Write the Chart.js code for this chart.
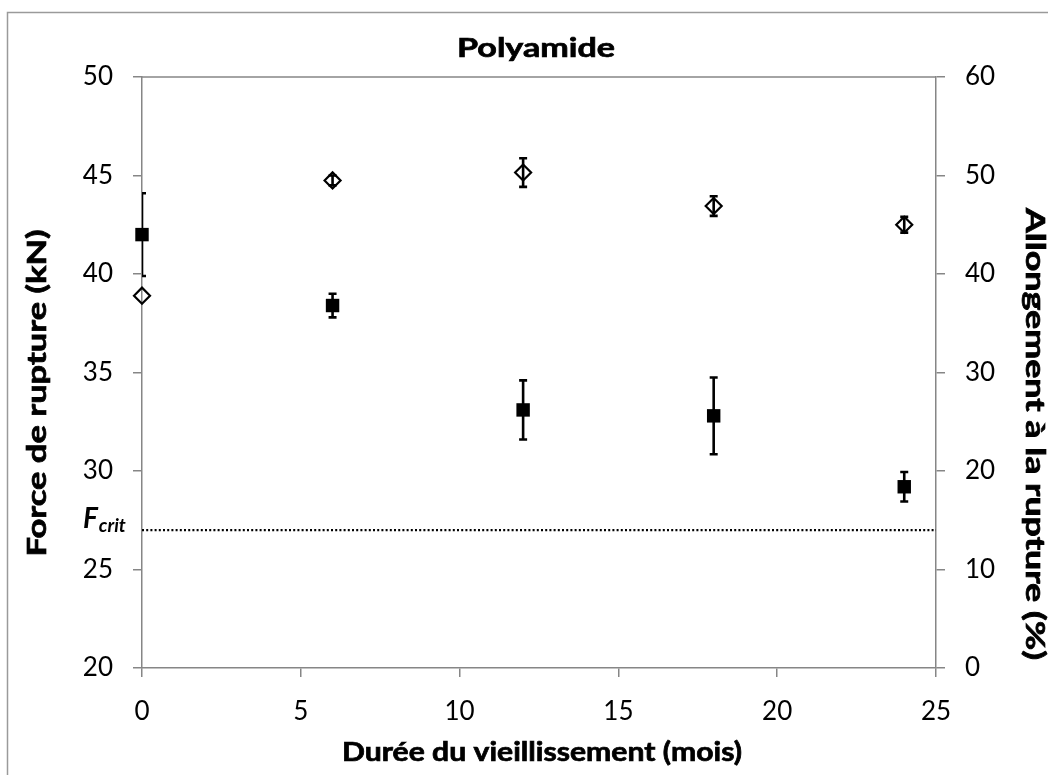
<!DOCTYPE html>
<html><head><meta charset="utf-8">
<script src="https://cdn.jsdelivr.net/npm/chart.js@4/dist/chart.umd.min.js"></script>
<style>html,body{margin:0;padding:0;background:#fff;}</style>
</head><body>
<canvas id="c" width="1048" height="775" style="display:block;width:1048px;height:775px"></canvas>
<script>
// ---- data ----
const months = [0, 6, 12, 18, 24];
const force = [42.0, 38.4, 33.1, 32.8, 29.2];          // kN (left axis)
const forceErr = [2.1, 0.6, 1.5, 1.95, 0.75];
const elong = [37.8, 49.5, 50.3, 46.9, 45.0];          // % (right axis)
const elongErr = [0, 0.5, 1.45, 1.0, 0.8];
const fCrit = 27;
const xTicks = [0, 5, 10, 15, 20, 25];
const leftTicks = [20, 25, 30, 35, 40, 45, 50];
const rightTicks = [0, 10, 20, 30, 40, 50, 60];

const chartTitle = 'Polyamide';
const xTitle = 'Durée du vieillissement (mois)';
const yLeftTitle = 'Force de rupture (kN)';
const yRightTitle = 'Allongement à la rupture (%)';

const FAM = 'Lato, "Open Sans", sans-serif';
const AXIS = '#868686';

// draw text at given size, stretched horizontally to a target width
function drawFitted(ctx, text, size, target, x, y, rot) {
  ctx.save();
  ctx.font = 'bold ' + size + 'px ' + FAM;
  const w = ctx.measureText(text).width;
  ctx.translate(x, y);
  if (rot) ctx.rotate(rot);
  ctx.scale(target / w, 1);
  ctx.textAlign = 'center'; ctx.textBaseline = 'alphabetic';
  ctx.fillStyle = '#000'; ctx.strokeStyle = '#000'; ctx.lineWidth = 0.7;
  ctx.fillText(text, 0, 0);
  ctx.strokeText(text, 0, 0);
  ctx.restore();
}

const errorBars = {
  id: 'errorBars',
  afterDatasetsDraw(chart) {
    const ctx = chart.ctx, x = chart.scales.x, a = chart.chartArea;
    const sets = [[force, forceErr, chart.scales.yL], [elong, elongErr, chart.scales.yR]];
    ctx.save();
    ctx.beginPath(); ctx.rect(a.left, a.top - 20, a.right - a.left, a.bottom - a.top + 40); ctx.clip();
    ctx.strokeStyle = '#000'; ctx.lineWidth = 2.6;
    sets.forEach(([vals, errs, ys]) => {
      vals.forEach((v, i) => {
        if (!errs[i]) return;
        const px = x.getPixelForValue(months[i]);
        const t = ys.getPixelForValue(v + errs[i]), b = ys.getPixelForValue(v - errs[i]);
        ctx.beginPath();
        ctx.moveTo(px, t); ctx.lineTo(px, b);
        ctx.moveTo(px - 4, t); ctx.lineTo(px + 4, t);
        ctx.moveTo(px - 4, b); ctx.lineTo(px + 4, b);
        ctx.stroke();
      });
    });
    ctx.restore();
  }
};

const decor = {
  id: 'decor',
  beforeDraw(chart) {
    const ctx = chart.ctx;
    ctx.save();
    ctx.fillStyle = '#fff'; ctx.fillRect(0, 0, chart.width, chart.height);
    ctx.strokeStyle = '#9a9a9a'; ctx.lineWidth = 1.5;
    ctx.beginPath();
    ctx.moveTo(7.5, 780); ctx.lineTo(7.5, 12.5); ctx.lineTo(1060, 12.5);
    ctx.stroke();
    ctx.restore();
  },
  afterDraw(chart) {
    const ctx = chart.ctx, a = chart.chartArea;
    ctx.save();
    ctx.strokeStyle = AXIS; ctx.lineWidth = 1.5;
    ctx.beginPath(); ctx.moveTo(a.left, a.top); ctx.lineTo(a.right, a.top); ctx.stroke();
    ctx.fillStyle = '#000';
    drawFitted(ctx, chartTitle, 26.5, 158, 536, 57, 0);
    drawFitted(ctx, xTitle, 26, 400, 542, 761, 0);
    drawFitted(ctx, yLeftTitle, 26, 327, 46, 393, -Math.PI / 2);
    drawFitted(ctx, yRightTitle, 26, 452, 1026, 434, Math.PI / 2);
    // F crit label
    ctx.textAlign = 'left'; ctx.textBaseline = 'alphabetic';
    ctx.font = 'italic bold 28px ' + FAM;
    ctx.fillText('F', 83, 528);
    const fw = ctx.measureText('F').width;
    ctx.font = 'italic bold 19px ' + FAM;
    ctx.fillText('crit', 83 + fw + 1, 532);
    ctx.restore();
  }
};

const tickFont = { family: FAM, size: 26 };

new Chart(document.getElementById('c'), {
  type: 'scatter',
  data: {
    datasets: [
      {
        label: 'Fcrit', type: 'line', yAxisID: 'yL',
        data: [{ x: 0, y: fCrit }, { x: 25, y: fCrit }],
        borderColor: '#000', borderWidth: 2.2, borderDash: [2, 2.2],
        pointRadius: 0, fill: false
      },
      {
        label: 'Force', yAxisID: 'yL',
        data: months.map((m, i) => ({ x: m, y: force[i] })),
        pointStyle: 'rect', pointRadius: 9.5, borderWidth: 0,
        backgroundColor: '#000', borderColor: '#000', clip: false
      },
      {
        label: 'Allongement', yAxisID: 'yR',
        data: months.map((m, i) => ({ x: m, y: elong[i] })),
        pointStyle: 'rectRot', pointRadius: 8, borderWidth: 2.2,
        backgroundColor: 'rgba(255,255,255,0)', borderColor: '#000', clip: false
      }
    ]
  },
  options: {
    responsive: false, animation: false, devicePixelRatio: 1,
    layout: { padding: { top: 77, left: 0, right: 0, bottom: 0 } },
    plugins: { legend: { display: false }, title: { display: false }, tooltip: { enabled: false } },
    scales: {
      x: {
        type: 'linear', min: 0, max: 25,
        afterBuildTicks(sc) { sc.ticks = xTicks.map(v => ({ value: v })); },
        afterFit(sc) { sc.height = 107; },
        border: { color: AXIS, width: 1.5 },
        grid: { drawOnChartArea: false, drawTicks: true, tickLength: 9, color: AXIS, lineWidth: 1.5 },
        ticks: { font: tickFont, color: '#000', padding: 19, maxRotation: 0 }
      },
      yL: {
        type: 'linear', position: 'left', min: 20, max: 50,
        afterBuildTicks(sc) { sc.ticks = leftTicks.map(v => ({ value: v })); },
        afterFit(sc) { sc.width = 142; },
        border: { color: AXIS, width: 1.5 },
        grid: { drawOnChartArea: false, drawTicks: true, tickLength: 9, color: AXIS, lineWidth: 1.5 },
        ticks: { font: tickFont, color: '#000', padding: 20 }
      },
      yR: {
        type: 'linear', position: 'right', min: 0, max: 60,
        afterBuildTicks(sc) { sc.ticks = rightTicks.map(v => ({ value: v })); },
        afterFit(sc) { sc.width = 112; },
        border: { color: AXIS, width: 1.5 },
        grid: { drawOnChartArea: false, drawTicks: true, tickLength: 9, color: AXIS, lineWidth: 1.5 },
        ticks: { font: tickFont, color: '#000', padding: 20 }
      }
    }
  },
  plugins: [decor, errorBars]
});
</script>
</body></html>
